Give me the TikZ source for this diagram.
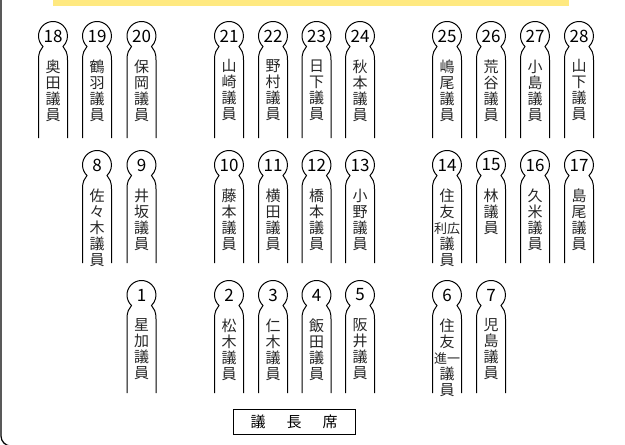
\documentclass[tikz,border=0pt]{standalone}
\usepackage{fontspec}
\newfontfamily\cjk{Noto Sans CJK JP}
\definecolor{barcol}{RGB}{255,233,128}
\tikzset{
  seatline/.style={draw=black,line width=1pt},
  numlabel/.style={font=\cjk\fontsize{17}{17}\selectfont, inner sep=0pt},
  namelabel/.style={font=\cjk\fontsize{15}{16}\selectfont, align=center, inner sep=0pt, anchor=north, text=black!85},
  chairbox/.style={draw=black, line width=1pt, minimum width=122pt, minimum height=25pt, inner sep=0pt, font=\cjk\fontsize{15}{15}\selectfont},
  framebox/.style={draw=black, line width=1.2pt}
}
\newcommand\seatdraw[6]{%
  \draw[seatline] (#2-14.5,#6) -- (#2-14.5,#3+24)
    .. controls (#2-14.5,#3+16) and (#2-12.5,#3+14) .. (#2-10,#3+10.5)
    arc[start angle=226.4,end angle=-46.4,radius=14.5pt]
    .. controls (#2+12.5,#3+14) and (#2+14.5,#3+16) .. (#2+14.5,#3+24)
    -- (#2+14.5,#6);
  \node[numlabel] (n#1) at (#2,#3) {#4};
  \node[namelabel] (t#1) at (#2,#3+23.5) {#5};
}
\newcommand\sm[1]{{\fontsize{13}{13}\selectfont #1}}
\begin{document}
\begin{tikzpicture}[x=1pt,y=-1pt]
\useasboundingbox (0,0) rectangle (625,445);
\fill[fill=barcol] (53,0) rectangle (569,6);
\draw[framebox] (1,-2) -- (1,436) arc[start angle=180,end angle=270,radius=10pt] -- (627,446);
% row 1
\seatdraw{18}{53}{36}{18}{奥\\田\\議\\員}{138}
\seatdraw{19}{97}{36}{19}{鶴\\羽\\議\\員}{138}
\seatdraw{20}{141.5}{36}{20}{保\\岡\\議\\員}{138}
\seatdraw{21}{229}{36}{21}{山\\崎\\議\\員}{138}
\seatdraw{22}{273}{36}{22}{野\\村\\議\\員}{138}
\seatdraw{23}{316.5}{36}{23}{日\\下\\議\\員}{138}
\seatdraw{24}{360}{36}{24}{秋\\本\\議\\員}{138}
\seatdraw{25}{447}{36}{25}{嶋\\尾\\議\\員}{138}
\seatdraw{26}{491}{36}{26}{荒\\谷\\議\\員}{138}
\seatdraw{27}{535}{36}{27}{小\\島\\議\\員}{138}
\seatdraw{28}{579}{36}{28}{山\\下\\議\\員}{138}
% row 2
\seatdraw{8}{97}{165}{8}{佐\\々\\木\\議\\員}{263}
\seatdraw{9}{141.5}{165}{9}{井\\坂\\議\\員}{263}
\seatdraw{10}{229}{165}{10}{藤\\本\\議\\員}{263}
\seatdraw{11}{273}{165}{11}{横\\田\\議\\員}{263}
\seatdraw{12}{316.5}{165}{12}{橋\\本\\議\\員}{263}
\seatdraw{13}{360}{165}{13}{小\\野\\議\\員}{263}
\seatdraw{14}{447}{165}{14}{住\\友\\\sm{利広}\\議\\員}{263}
\seatdraw{15}{491}{165}{15}{林\\議\\員}{263}
\seatdraw{16}{535}{165}{16}{久\\米\\議\\員}{263}
\seatdraw{17}{579}{165}{17}{島\\尾\\議\\員}{263}
% row 3
\seatdraw{1}{141.5}{295}{1}{星\\加\\議\\員}{393}
\seatdraw{2}{229}{295}{2}{松\\木\\議\\員}{393}
\seatdraw{3}{273}{295}{3}{仁\\木\\議\\員}{393}
\seatdraw{4}{316.5}{295}{4}{飯\\田\\議\\員}{393}
\seatdraw{5}{360}{295}{5}{阪\\井\\議\\員}{393}
\seatdraw{6}{447}{295}{6}{住\\友\\\sm{進一}\\議\\員}{393}
\seatdraw{7}{491}{295}{7}{児\\島\\議\\員}{393}
% chair
\node[chairbox] (chair) at (294,421.5) {議\hspace{21pt}長\hspace{21pt}席};
\end{tikzpicture}
\end{document}
